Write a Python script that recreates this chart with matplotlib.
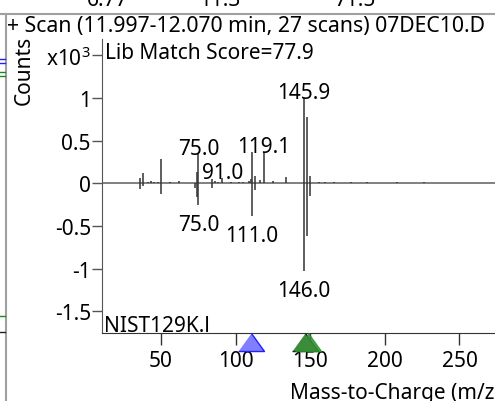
import matplotlib
matplotlib.use("Agg")
import matplotlib.pyplot as plt
import matplotlib.transforms as mtransforms
from matplotlib.lines import Line2D

plt.rcParams['font.family'] = ['Noto Sans', 'DejaVu Sans']
plt.rcParams['mathtext.default'] = 'regular'

# measured spectrum (upper, x10^3 counts)
scan_mz = [36, 38, 41, 43, 45, 48, 50, 56, 62, 74, 75.0, 84, 86, 88, 91.0, 97, 102, 105,
           109, 110, 111, 113, 116, 119.1, 125, 134, 145.9, 148, 150, 156, 160, 166, 177,
           188, 208, 226]
scan_int = [0.06, 0.12, 0.02, 0.03, 0.02, 0.02, 0.28, 0.02, 0.03, 0.13, 0.34, 0.05, 0.03,
            0.02, 0.06, 0.02, 0.02, 0.02, 0.03, 0.05, 0.37, 0.09, 0.04, 0.37, 0.03, 0.07,
            1.0, 0.78, 0.09, 0.02, 0.02, 0.01, 0.01, 0.01, 0.02, 0.01]

# library spectrum (lower, mirrored)
lib_mz = [36, 38, 50, 73, 74, 75.0, 84, 111.0, 113, 146.0, 148, 150]
lib_int = [-0.07, -0.03, -0.13, -0.05, -0.16, -0.25, -0.05, -0.38, -0.08, -1.03, -0.62, -0.15]

scan_labels = [75.0, 91.0, 119.1, 145.9]
lib_labels = [75.0, 111.0, 146.0]

blue_marks = [110.5]
green_marks = [146.3, 148.3]

ytick_vals = [1.5, 1, 0.5, 0, -0.5, -1, -1.5]
ytick_text = ['x10$^3$', '1', '0.5', '0', '-0.5', '-1', '-1.5']
xtick_vals = [50, 100, 150, 200, 250]

W, H = 495, 402
def fx(x):
    return x / W
def fy(y):
    return 1 - y / H

fig = plt.figure(figsize=(4.95, 4.02), dpi=100)
ax = fig.add_axes([fx(102), fy(334), 1 - fx(102), (334 - 40) / H])

ax.axhline(0, color='#808080', lw=1.4, zorder=1)
ax.vlines(scan_mz, 0, scan_int, color='#333333', lw=1.1, zorder=2)
ax.vlines(lib_mz, 0, lib_int, color='#333333', lw=1.1, zorder=2)

for m in scan_labels:
    v = scan_int[scan_mz.index(m)]
    ax.annotate('%.1f' % m, xy=(m, v), xytext=(0, 0), textcoords='offset points',
                ha='center', va='baseline', fontsize=15)
for m in lib_labels:
    v = lib_int[lib_mz.index(m)]
    ax.annotate('%.1f' % m, xy=(m, v), xytext=(0, -18), textcoords='offset points',
                ha='center', va='baseline', fontsize=15)

ax.set_xlim(10.45, 273.8)
ax.set_ylim(-1.755, 1.692)
ax.set_yticks(ytick_vals)
ax.set_yticklabels(ytick_text)
ax.set_xticks(xtick_vals)
ax.tick_params(axis='y', direction='out', length=7, width=1, color='#555555',
               pad=1, labelsize=15)
ax.tick_params(axis='x', direction='out', length=8.6, width=1, color='#333333',
               pad=4, labelsize=15)
for s in ['top', 'right']:
    ax.spines[s].set_visible(False)
ax.spines['left'].set_color('#555555')
ax.spines['bottom'].set_color('#333333')
ax.patch.set_alpha(0)

# triangle markers under the axis
trans = mtransforms.blended_transform_factory(ax.transData, ax.transAxes)
tri = [(-1.44, -1), (1.44, -1), (0, 1)]
ax.scatter(blue_marks, [-0.0306] * len(blue_marks), marker=tri, s=350, transform=trans,
           clip_on=False, facecolor='#7f7fff', edgecolor='#2020ff', lw=1, zorder=5)
ax.scatter(green_marks[:1], [-0.0306], marker=tri, s=350, transform=trans,
           clip_on=False, facecolor='#3c8c3c', edgecolor='#222222', lw=1, zorder=5)
ax.scatter(green_marks[1:], [-0.0306], marker=tri, s=350, transform=trans,
           clip_on=False, facecolor='#3c8c3c', edgecolor='#1a9a1a', lw=1, alpha=0.85, zorder=6)

# texts
fig.text(fx(7), fy(32), '+ Scan (11.997-12.070 min, 27 scans) 07DEC10.D',
         ha='left', va='baseline', fontsize=15.3)
fig.text(fx(24), fy(70.5), 'Counts', rotation=90, ha='center', va='center', fontsize=15)
fig.text(fx(105), fy(59), 'Lib Match Score=77.9', ha='left', va='baseline', fontsize=15)
fig.text(fx(104), fy(331.7), 'NIST129K.l', ha='left', va='baseline', fontsize=15)
fig.text(fx(290), fy(399), 'Mass-to-Charge (m/z)', ha='left', va='baseline', fontsize=15)

# neighbouring panel bits (clipped at the top edge, as in the screenshot)
for xc, t in [(108, '6.77'), (220, '11.3'), (355, '71.5')]:
    fig.text(fx(xc), fy(6), t, ha='center', va='baseline', fontsize=15)
fig.add_artist(Line2D([0, 1], [fy(15), fy(15)], color='#a0a0a0', lw=1.5))
fig.add_artist(Line2D([fx(6), fx(6)], [fy(15), 0], color='#a0a0a0', lw=1.5))
for yy, c in [(60, '#2020ff'), (64, '#2020ff'), (73, '#1a8a1a'), (77, '#1a8a1a'),
              (317, '#1a8a1a'), (333, '#222222')]:
    fig.add_artist(Line2D([0, fx(5)], [fy(yy), fy(yy)], color=c, lw=1))

fig.savefig('out.png', dpi=100)
